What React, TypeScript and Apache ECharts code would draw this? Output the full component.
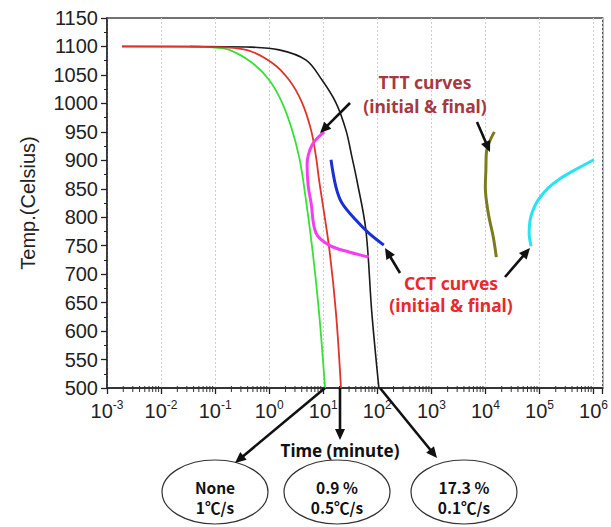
import React, { useEffect, useRef } from "react";
import * as echarts from "echarts";

// ---- axis ranges ----
const xMin = 0.001;
const xMax = 1.48e6;
const yMin = 500;
const yMax = 1150;
const yInterval = 50;

// ---- cooling curves (time in minutes, temperature in Celsius) ----
const greenTime = [0.0338, 0.0975, 0.184, 0.489, 1.0, 1.74, 2.66, 3.58, 4.25, 6.22, 8.38, 10.8];
const greenTemp = [1100, 1098, 1094, 1071, 1041, 1001, 953, 906, 865, 748, 632, 500];

const redTime = [0.00189, 0.0895, 0.378, 1.14, 2.34, 4.07, 5.96, 7.36, 8.38, 12.8, 17.2, 21.3];
const redTemp = [1100, 1099, 1094, 1071, 1041, 1001, 953, 906, 865, 748, 632, 500];

const blackTime = [0.00189, 0.0516, 0.378, 1.53, 4.82, 9.5, 17.2, 26.3, 33.9, 41.9, 61.4, 79.2, 107];
const blackTemp = [1100, 1100, 1099, 1094, 1076, 1041, 1001, 953, 906, 865, 778, 632, 500];

// ---- TTT curves ----
const tttInitialTime = [10.4, 6.22, 5.03, 5.25, 5.96, 7.36, 12.8, 29.9, 69.7];
const tttInitialTemp = [950, 927, 892, 857, 825, 772, 751, 739, 730];

const tttFinalTime = [14600, 10400, 10200, 9960, 11300, 14000, 15900];
const tttFinalTemp = [950, 913, 883, 853, 807, 765, 730];

// ---- CCT curves ----
const cctInitialTime = [13.9, 17.2, 22.2, 40.2, 69.7, 132];
const cctInitialTemp = [901, 853, 825, 795, 772, 751];

const cctFinalTime = [70000, 64300, 67100, 76200, 94200, 144000, 250000, 514000, 1014000];
const cctFinalTemp = [749, 772, 795, 813, 830, 851, 869, 886, 901];

// ---- log minor tick multipliers ----
const minorMultipliers = [2, 3, 4, 5, 6, 7, 8, 9];
const decadeExponents = [-3, -2, -1, 0, 1, 2, 3, 4, 5];

// ---- annotation texts ----
const tttLabel = ["TTT curves", "(initial & final)"];
const cctLabel = ["CCT curves", "(initial & final)"];
const ellipseLabels = ["None\n1℃/s", "0.9 %\n0.5℃/s", "17.3 %\n0.1℃/s"];
const xAxisTitle = "Time (minute)";
const yAxisTitle = "Temp.(Celsius)";

const zip = (a: number[], b: number[]) => a.map((v, i) => [v, b[i]]);

function arrow(x1: number, y1: number, x2: number, y2: number) {
  const w = 2.6;
  const head = 11;
  const hw = 5;
  const dx = x2 - x1;
  const dy = y2 - y1;
  const L = Math.hypot(dx, dy);
  const ux = dx / L;
  const uy = dy / L;
  const bx = x2 - ux * head;
  const by = y2 - uy * head;
  const px = -uy;
  const py = ux;
  return [
    {
      type: "line",
      z: 100,
      shape: { x1, y1, x2: bx + ux * 2, y2: by + uy * 2 },
      style: { stroke: "#111", lineWidth: w },
    },
    {
      type: "polygon",
      z: 100,
      shape: {
        points: [
          [x2, y2],
          [bx + px * hw, by + py * hw],
          [bx - px * hw, by - py * hw],
        ],
      },
      style: { fill: "#111" },
    },
  ];
}

const textEl = (x: number, y: number, text: string, fill: string, font: string, extra: any = {}) => ({
  type: "text",
  z: 100,
  x,
  y,
  style: { text, fill, font, align: "center", verticalAlign: "middle", ...extra },
});

export default function App() {
  const ref = useRef<HTMLDivElement>(null);

  useEffect(() => {
    if (!ref.current) return;
    const chart = echarts.init(ref.current, null, { renderer: "svg" });

    const minorTicks: number[][] = [];
    decadeExponents.forEach((e) =>
      minorMultipliers.forEach((m) => minorTicks.push([m * Math.pow(10, e), yMin]))
    );

    const curve = (name: string, color: string, data: number[][], width = 1.7, smooth = 0.35) => ({
      name,
      type: "line",
      data,
      showSymbol: false,
      symbol: "none",
      smooth,
      lineStyle: { color, width },
      itemStyle: { color },
      z: 3,
    });

    const ellipseCx = [215, 337, 464];
    const annotFont = 'bold 17.5px "Noto Sans", sans-serif';

    const graphic: any[] = [
      ...arrow(350, 103, 320, 133),
      ...arrow(477, 122, 490, 152),
      ...arrow(400, 273, 385, 248),
      ...arrow(505, 277, 530, 248),
      ...arrow(325, 388, 235, 463),
      ...arrow(340, 388, 340, 440),
      ...arrow(380, 388, 437, 458),
      textEl(425, 82, tttLabel[0], "#a53a40", annotFont),
      textEl(425, 106, tttLabel[1], "#a53a40", annotFont),
      textEl(451, 283, cctLabel[0], "#e82a2c", annotFont),
      textEl(451, 305, cctLabel[1], "#e82a2c", annotFont),
      textEl(340, 450, xAxisTitle, "#111", 'bold 17px "Noto Sans", sans-serif'),
      ...ellipseCx.map((cx) => ({
        type: "ellipse",
        z: 99,
        shape: { cx, cy: 492, rx: 53, ry: 32 },
        style: { fill: "#fff", stroke: "#333", lineWidth: 1.2 },
      })),
      ...ellipseCx.map((cx, i) =>
        textEl(cx, 497, ellipseLabels[i], "#111", 'bold 15.5px "Noto Sans CJK KR", sans-serif', {
          lineHeight: 20,
        })
      ),
    ];

    chart.setOption({
      animation: false,
      backgroundColor: "#fff",
      grid: {
        left: 107,
        right: 6,
        top: 18,
        bottom: 139,
        show: true,
        borderColor: "#444",
        borderWidth: 1.3,
        backgroundColor: "transparent",
      },
      xAxis: {
        type: "log",
        logBase: 10,
        min: xMin,
        max: xMax,
        splitNumber: 10,
        axisLine: { show: true, lineStyle: { color: "#222", width: 1.5 } },
        axisTick: { show: true, inside: false, length: 6, lineStyle: { color: "#222", width: 1.3 } },
        minorTick: { show: false },
        splitLine: { show: true, lineStyle: { color: "#cfcfcf", type: [2, 2], width: 1 } },
        axisLabel: {
          margin: 11,
          color: "#222",
          formatter: (v: number) => {
            const e = Math.log10(v);
            const r = Math.round(e);
            if (Math.abs(e - r) > 1e-6) return "";
            return `{b|10}{s|${r}}`;
          },
          rich: {
            b: { fontSize: 20, fontFamily: "Liberation Sans", color: "#222", lineHeight: 22, verticalAlign: "bottom" },
            s: { fontSize: 12, fontFamily: "Liberation Sans", color: "#222", lineHeight: 22, verticalAlign: "top", padding: [0, 0, 10, 0] },
          },
        },
      },
      yAxis: {
        type: "value",
        min: yMin,
        max: yMax,
        interval: yInterval,
        name: yAxisTitle,
        nameLocation: "middle",
        nameGap: 69,
        nameTextStyle: { fontSize: 20, fontFamily: "Liberation Sans", color: "#222" },
        axisLine: { show: true, lineStyle: { color: "#222", width: 1.5 } },
        axisTick: { show: true, inside: false, length: 6, lineStyle: { color: "#222", width: 1.3 } },
        minorTick: { show: true, splitNumber: 2, length: 3, lineStyle: { color: "#222", width: 1 } },
        splitLine: { show: false },
        axisLabel: {
          fontSize: 20,
          fontFamily: "Liberation Sans",
          color: "#222",
          margin: 9,
          formatter: (v: number) => String(v),
        },
      },
      series: [
        {
          type: "custom",
          silent: true,
          clip: false,
          data: minorTicks,
          renderItem: (params: any, api: any) => {
            const p = api.coord([api.value(0), api.value(1)]);
            return {
              type: "line",
              shape: { x1: p[0], y1: p[1] - 2, x2: p[0], y2: p[1] + 4 },
              style: { stroke: "#333", lineWidth: 1 },
            };
          },
          z: 2,
        },
        curve("1℃/s", "#38e038", zip(greenTime, greenTemp), 1.8),
        curve("0.1℃/s", "#1a1a1a", zip(blackTime, blackTemp), 1.6),
        curve("0.5℃/s", "#e0332c", zip(redTime, redTemp), 1.8),
        { ...curve("TTT initial", "#f23ff0", zip(tttInitialTime, tttInitialTemp), 3), z: 4 },
        { ...curve("CCT initial", "#1a2fd4", zip(cctInitialTime, cctInitialTemp), 3), z: 4 },
        { ...curve("TTT final", "#7c7c1e", zip(tttFinalTime, tttFinalTemp), 3), z: 4 },
        { ...curve("CCT final", "#26e4f2", zip(cctFinalTime, cctFinalTemp), 3, 0.3), z: 4 },
      ],
      graphic,
    });

    return () => chart.dispose();
  }, []);

  return (
    <div
      ref={ref}
      style={{ position: "fixed", left: 0, top: 0, width: 611, height: 527 }}
    />
  );
}
